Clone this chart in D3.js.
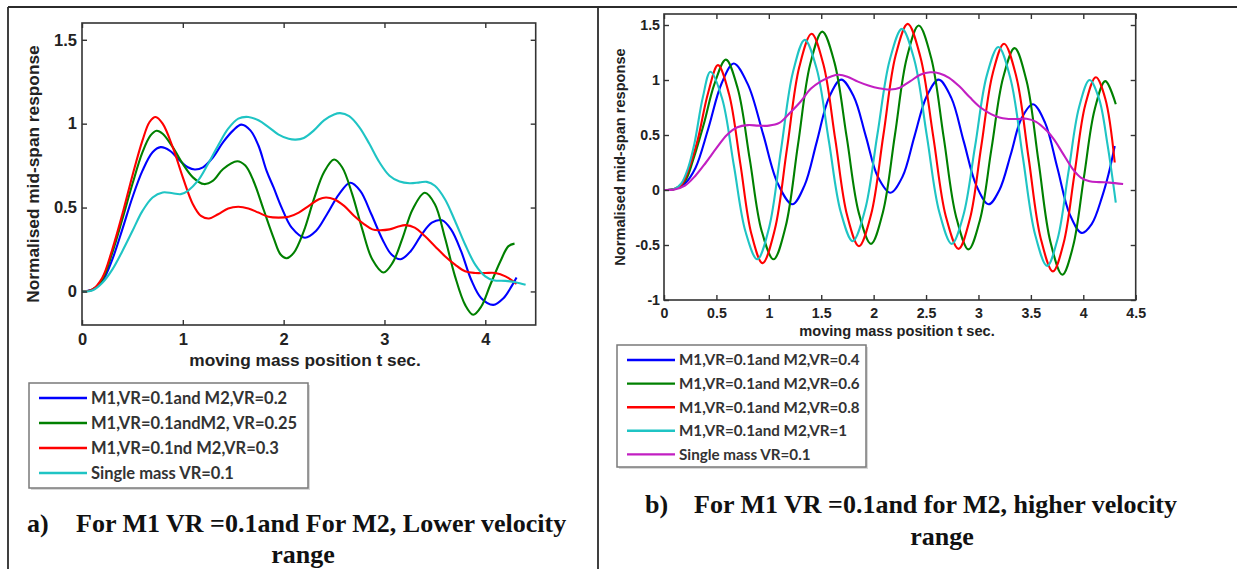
<!DOCTYPE html>
<html><head><meta charset="utf-8">
<script src="https://cdn.jsdelivr.net/npm/d3@7"></script>
<style>
html,body{margin:0;padding:0;background:#fff;}
svg{display:block;}
</style></head>
<body>
<svg id="fig" width="1237" height="569"></svg>
<script>
// ---------------- data ----------------
// tick values
const lowXTicks = [0, 1, 2, 3, 4];
const lowYTicks = [0, 0.5, 1, 1.5];
const highXTicks = [0, 0.5, 1, 1.5, 2, 2.5, 3, 3.5, 4, 4.5];
const highYTicks = [-1, -0.5, 0, 0.5, 1, 1.5];

// legend entries
const lowNames = ["M1,VR=0.1and M2,VR=0.2", "M1,VR=0.1andM2, VR=0.25", "M1,VR=0.1nd M2,VR=0.3", "Single mass VR=0.1"];
const highNames = ["M1,VR=0.1and M2,VR=0.4", "M1,VR=0.1and M2,VR=0.6", "M1,VR=0.1and M2,VR=0.8", "M1,VR=0.1and M2,VR=1", "Single mass VR=0.1"];

// (a) lower velocity range: [t (s), normalised response]
const lowVR02 = [[0,0],[0.1,0.01],[0.2,0.06],[0.3,0.19],[0.4,0.37],[0.5,0.56],[0.6,0.72],[0.7,0.83],[0.78,0.86],[0.87,0.84],[0.97,0.78],[1.05,0.74],[1.12,0.727],[1.2,0.74],[1.3,0.8],[1.4,0.89],[1.5,0.96],[1.58,0.994],[1.67,0.96],[1.75,0.87],[1.83,0.72],[1.9,0.62],[1.98,0.5],[2.08,0.38],[2.21,0.32],[2.32,0.36],[2.43,0.46],[2.55,0.58],[2.66,0.648],[2.76,0.6],[2.87,0.46],[2.98,0.31],[3.07,0.22],[3.16,0.192],[3.26,0.24],[3.37,0.34],[3.47,0.41],[3.57,0.424],[3.66,0.37],[3.76,0.24],[3.86,0.07],[3.96,-0.04],[4.08,-0.08],[4.18,-0.04],[4.26,0.03],[4.31,0.083]];
const lowVR025 = [[0,0],[0.1,0.01],[0.2,0.07],[0.3,0.23],[0.4,0.43],[0.5,0.64],[0.6,0.83],[0.68,0.93],[0.74,0.958],[0.8,0.94],[0.9,0.86],[1.0,0.76],[1.1,0.68],[1.21,0.64],[1.3,0.66],[1.4,0.73],[1.54,0.776],[1.62,0.75],[1.7,0.66],[1.8,0.49],[1.9,0.32],[1.97,0.22],[2.03,0.198],[2.1,0.23],[2.2,0.36],[2.3,0.55],[2.4,0.71],[2.5,0.786],[2.58,0.74],[2.68,0.58],[2.78,0.37],[2.88,0.19],[2.99,0.113],[3.08,0.17],[3.18,0.32],[3.28,0.49],[3.4,0.588],[3.5,0.52],[3.6,0.32],[3.7,0.09],[3.8,-0.08],[3.88,-0.139],[3.96,-0.09],[4.05,0.04],[4.15,0.18],[4.23,0.27],[4.29,0.285]];
const lowVR03 = [[0,0],[0.1,0.01],[0.2,0.08],[0.3,0.25],[0.4,0.46],[0.5,0.69],[0.6,0.9],[0.67,1.01],[0.73,1.04],[0.8,1.0],[0.9,0.86],[1.0,0.68],[1.1,0.52],[1.18,0.45],[1.26,0.435],[1.35,0.46],[1.45,0.495],[1.55,0.505],[1.65,0.495],[1.75,0.47],[1.85,0.445],[1.95,0.44],[2.05,0.445],[2.15,0.47],[2.25,0.51],[2.35,0.55],[2.42,0.56],[2.5,0.55],[2.6,0.51],[2.7,0.45],[2.8,0.4],[2.88,0.37],[2.95,0.365],[3.05,0.37],[3.13,0.385],[3.21,0.395],[3.3,0.38],[3.4,0.33],[3.5,0.27],[3.6,0.21],[3.7,0.16],[3.8,0.12],[3.9,0.11],[4.0,0.11],[4.1,0.11],[4.2,0.09],[4.31,0.045]];
const lowSingle = [[0,0],[0.1,0.005],[0.2,0.05],[0.3,0.13],[0.4,0.24],[0.5,0.36],[0.6,0.48],[0.7,0.56],[0.8,0.59],[0.9,0.585],[0.98,0.58],[1.05,0.6],[1.15,0.66],[1.25,0.76],[1.35,0.87],[1.45,0.97],[1.55,1.03],[1.65,1.04],[1.75,1.02],[1.85,0.98],[1.95,0.935],[2.05,0.91],[2.12,0.905],[2.2,0.915],[2.3,0.96],[2.4,1.02],[2.5,1.055],[2.56,1.063],[2.65,1.045],[2.75,0.98],[2.85,0.88],[2.95,0.77],[3.05,0.69],[3.15,0.655],[3.25,0.645],[3.35,0.65],[3.42,0.653],[3.5,0.63],[3.6,0.55],[3.7,0.42],[3.8,0.28],[3.9,0.16],[4.0,0.09],[4.08,0.067],[4.2,0.063],[4.3,0.055],[4.4,0.04]];

// (b) higher velocity range
const highVR04 = [[0,0],[0.1,0.01],[0.2,0.06],[0.3,0.2],[0.42,0.55],[0.55,0.97],[0.665,1.15],[0.8,0.96],[0.945,0.51],[1.085,0.06],[1.225,-0.13],[1.34,0.04],[1.458,0.44],[1.574,0.84],[1.69,1.003],[1.81,0.85],[1.925,0.49],[2.04,0.12],[2.16,-0.025],[2.275,0.12],[2.39,0.49],[2.505,0.85],[2.62,1.003],[2.74,0.84],[2.86,0.44],[2.98,0.04],[3.097,-0.13],[3.2,0.0],[3.31,0.33],[3.41,0.65],[3.52,0.78],[3.636,0.61],[3.753,0.2],[3.87,-0.22],[3.985,-0.39],[4.08,-0.31],[4.18,-0.06],[4.24,0.14],[4.3,0.4]];
const highVR06 = [[0,0],[0.1,0.01],[0.2,0.08],[0.28,0.28],[0.38,0.6],[0.48,0.96],[0.59,1.185],[0.704,0.92],[0.818,0.28],[0.931,-0.37],[1.045,-0.63],[1.161,-0.33],[1.278,0.41],[1.394,1.14],[1.51,1.44],[1.626,1.16],[1.743,0.48],[1.859,-0.21],[1.975,-0.49],[2.089,-0.2],[2.203,0.5],[2.316,1.2],[2.43,1.495],[2.549,1.2],[2.668,0.48],[2.786,-0.24],[2.905,-0.54],[3.015,-0.27],[3.125,0.38],[3.235,1.02],[3.345,1.29],[3.459,0.99],[3.573,0.26],[3.686,-0.47],[3.8,-0.77],[3.903,-0.51],[4.005,0.11],[4.108,0.73],[4.21,0.99],[4.31,0.78]];
const highVR08 = [[0,0],[0.1,0.01],[0.17,0.05],[0.24,0.2],[0.32,0.45],[0.42,0.88],[0.515,1.135],[0.621,0.87],[0.728,0.24],[0.834,-0.4],[0.94,-0.665],[1.057,-0.36],[1.174,0.38],[1.291,1.12],[1.408,1.42],[1.521,1.14],[1.634,0.46],[1.747,-0.23],[1.86,-0.51],[1.976,-0.22],[2.093,0.5],[2.209,1.22],[2.325,1.51],[2.446,1.21],[2.568,0.49],[2.689,-0.24],[2.81,-0.535],[2.919,-0.26],[3.027,0.4],[3.136,1.06],[3.244,1.33],[3.361,1.03],[3.477,0.3],[3.594,-0.44],[3.71,-0.74],[3.813,-0.48],[3.915,0.14],[4.018,0.77],[4.12,1.025],[4.21,0.83],[4.3,0.25]];
const highVR1 = [[0,0],[0.1,0.01],[0.165,0.06],[0.23,0.2],[0.29,0.42],[0.37,0.84],[0.443,1.075],[0.555,0.83],[0.667,0.22],[0.778,-0.38],[0.89,-0.63],[1.003,-0.34],[1.117,0.37],[1.23,1.07],[1.343,1.365],[1.457,1.1],[1.572,0.45],[1.686,-0.2],[1.8,-0.465],[1.918,-0.18],[2.035,0.5],[2.153,1.18],[2.27,1.465],[2.389,1.18],[2.508,0.49],[2.626,-0.2],[2.745,-0.49],[2.856,-0.23],[2.968,0.4],[3.079,1.04],[3.19,1.3],[3.306,1.01],[3.423,0.3],[3.539,-0.4],[3.655,-0.69],[3.756,-0.44],[3.858,0.16],[3.959,0.75],[4.06,1.0],[4.15,0.83],[4.23,0.42],[4.31,-0.114]];
const highSingle = [[0,0],[0.1,0.005],[0.2,0.04],[0.3,0.13],[0.4,0.25],[0.5,0.38],[0.6,0.5],[0.7,0.57],[0.8,0.59],[0.9,0.585],[1.0,0.585],[1.1,0.61],[1.2,0.7],[1.3,0.8],[1.4,0.92],[1.5,0.99],[1.6,1.035],[1.67,1.048],[1.75,1.03],[1.85,0.985],[1.95,0.95],[2.05,0.925],[2.16,0.913],[2.25,0.93],[2.35,0.99],[2.45,1.05],[2.54,1.07],[2.63,1.06],[2.72,1.02],[2.82,0.94],[2.92,0.84],[3.02,0.75],[3.12,0.69],[3.2,0.66],[3.27,0.648],[3.37,0.645],[3.46,0.648],[3.55,0.62],[3.65,0.54],[3.72,0.46],[3.8,0.34],[3.9,0.19],[3.98,0.11],[4.06,0.08],[4.15,0.072],[4.25,0.067],[4.38,0.054]];

// ---------------- drawing ----------------
const svg = d3.select("#fig");

// page frame (table borders)
const frame = svg.append("g").attr("stroke", "#2b2b2b").attr("stroke-width", 1.8);
frame.append("line").attr("x1", 8).attr("x2", 1237).attr("y1", 7).attr("y2", 7);
frame.append("line").attr("x1", 8).attr("x2", 8).attr("y1", 7).attr("y2", 569);
frame.append("line").attr("x1", 598).attr("x2", 598).attr("y1", 7).attr("y2", 569);

const fmt = d => String(d);

function panel(cfg) {
  const x = d3.scaleLinear().domain(cfg.xDomain).range([cfg.left, cfg.right]);
  const y = d3.scaleLinear().domain(cfg.yDomain).range([cfg.bottom, cfg.top]);
  const g = svg.append("g");
  const fontCss = `font-family:'Liberation Sans',Arial,sans-serif;font-weight:bold;font-size:${cfg.tickFont}px;fill:#222`;

  // curves
  const line = d3.line().x(d => x(d[0])).y(d => y(d[1])).curve(d3.curveCatmullRom.alpha(0.5));
  g.append("g").selectAll("path").data(cfg.series).join("path")
    .attr("d", d => line(d.values))
    .attr("fill", "none")
    .attr("stroke", d => d.color)
    .attr("stroke-width", 2.1)
    .attr("stroke-linejoin", "round");

  // axes with inward ticks on all four sides
  const ax = (a, tx, ty) => {
    const s = g.append("g").attr("transform", `translate(${tx},${ty})`).call(a);
    s.select(".domain").remove();
    s.selectAll(".tick line").attr("stroke", "#333").attr("stroke-width", 1.4);
    s.selectAll(".tick text").attr("style", fontCss);
    return s;
  };
  ax(d3.axisBottom(x).tickValues(cfg.xTicks).tickSize(-5).tickPadding(cfg.xPad).tickFormat(fmt), 0, cfg.bottom);
  ax(d3.axisTop(x).tickValues(cfg.xTicks).tickSize(-5).tickFormat(""), 0, cfg.top);
  ax(d3.axisLeft(y).tickValues(cfg.yTicks).tickSize(-5).tickPadding(cfg.yPad).tickFormat(fmt), cfg.left, 0);
  ax(d3.axisRight(y).tickValues(cfg.yTicks).tickSize(-5).tickFormat(""), cfg.right, 0);

  g.append("rect")
    .attr("x", cfg.left).attr("y", cfg.top)
    .attr("width", cfg.right - cfg.left).attr("height", cfg.bottom - cfg.top)
    .attr("fill", "none").attr("stroke", "#333").attr("stroke-width", 1.6);

  // axis titles
  g.append("text")
    .attr("x", cfg.xTitlePos[0]).attr("y", cfg.xTitlePos[1])
    .attr("text-anchor", "middle")
    .attr("style", `font-family:'Liberation Sans',Arial,sans-serif;font-weight:bold;font-size:${cfg.titleFont}px;fill:#222`)
    .text("moving mass position t sec.");
  g.append("text")
    .attr("transform", `translate(${cfg.yTitlePos[0]},${cfg.yTitlePos[1]}) rotate(-90)`)
    .attr("text-anchor", "middle")
    .attr("style", `font-family:'Liberation Sans',Arial,sans-serif;font-weight:bold;font-size:${cfg.titleFont}px;fill:#222`)
    .text("Normalised mid-span response");

  // legend
  const L = cfg.legend;
  const lg = g.append("g");
  lg.append("rect").attr("x", L.x + 2).attr("y", L.y + 2).attr("width", L.w).attr("height", L.h)
    .attr("fill", "#d8d8d8");
  lg.append("rect").attr("x", L.x).attr("y", L.y).attr("width", L.w).attr("height", L.h)
    .attr("fill", "#fff").attr("stroke", "#7a7a7a").attr("stroke-width", 1.5);
  const rows = lg.selectAll("g.row").data(cfg.series).join("g")
    .attr("transform", (d, i) => `translate(0,${L.row0 + i * L.step})`);
  rows.append("line").attr("x1", L.lineX0).attr("x2", L.lineX1)
    .attr("stroke", d => d.color).attr("stroke-width", 2.4);
  rows.append("text").attr("x", L.textX).attr("dy", "0.35em")
    .attr("style", `font-family:Lato,'Open Sans',sans-serif;font-weight:bold;font-size:${L.font}px;fill:#333`)
    .text(d => d.name);

  // caption (two lines)
  const C = cfg.caption;
  const capStyle = "font-family:'Liberation Serif','Times New Roman',serif;font-weight:bold;font-size:26px;fill:#111";
  g.append("text").attr("x", C.labelX).attr("y", C.y1).attr("style", capStyle).text(C.label);
  g.append("text").attr("x", C.textX).attr("y", C.y1).attr("style", capStyle).text(C.line1);
  g.append("text").attr("x", C.x2).attr("y", C.y2).attr("text-anchor", "middle").attr("style", capStyle).text(C.line2);
}

panel({
  xDomain: [0, 4.5], yDomain: [-0.2, 1.6],
  left: 82, right: 535.7, top: 23, bottom: 325,
  xTicks: lowXTicks, yTicks: lowYTicks, tickFont: 16.5, titleFont: 17.3, xPad: 8, yPad: 5,
  xTitlePos: [305, 366], yTitlePos: [39, 174],
  series: [
    { name: lowNames[0], color: "#0000ff", values: lowVR02 },
    { name: lowNames[1], color: "#008000", values: lowVR025 },
    { name: lowNames[2], color: "#ff0000", values: lowVR03 },
    { name: lowNames[3], color: "#1fc4c4", values: lowSingle }
  ],
  legend: { x: 29, y: 383, w: 279, h: 105, row0: 398, step: 25, lineX0: 39, lineX1: 87, textX: 91, font: 16.5 },
  caption: { label: "a)", labelX: 27, textX: 76, y1: 532, line1: "For M1 VR =0.1and For M2, Lower velocity", x2: 303, y2: 562.5, line2: "range" }
});

panel({
  xDomain: [0, 4.5], yDomain: [-1, 1.6],
  left: 664, right: 1135.7, top: 14, bottom: 300,
  xTicks: highXTicks, yTicks: highYTicks, tickFont: 14.2, titleFont: 14.6, xPad: 8, yPad: 4,
  xTitlePos: [897, 336], yTitlePos: [625, 157],
  series: [
    { name: highNames[0], color: "#0000ff", values: highVR04 },
    { name: highNames[1], color: "#008000", values: highVR06 },
    { name: highNames[2], color: "#ff0000", values: highVR08 },
    { name: highNames[3], color: "#1fc4c4", values: highVR1 },
    { name: highNames[4], color: "#c21fc2", values: highSingle }
  ],
  legend: { x: 617, y: 345, w: 249, h: 122, row0: 360, step: 23.6, lineX0: 627, lineX1: 675, textX: 679, font: 15.2 },
  caption: { label: "b)", labelX: 645, textX: 694, y1: 513, line1: "For M1 VR =0.1and for M2, higher velocity", x2: 942, y2: 545, line2: "range" }
});
</script>
</body></html>
